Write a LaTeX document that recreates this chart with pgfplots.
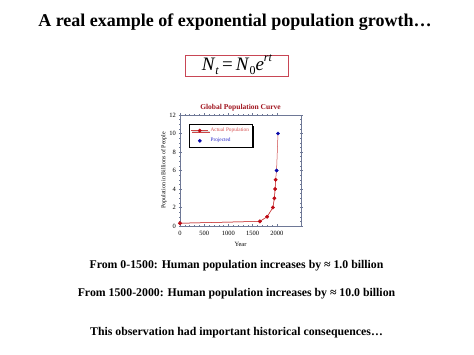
\documentclass[border=0pt]{standalone}
\usepackage{pgfplots}
\pgfplotsset{compat=1.18}
\usepackage{fontspec}
\setmainfont{Liberation Serif}
\usetikzlibrary{shadows}
\definecolor{axcol}{RGB}{110,120,150}
\definecolor{actred}{RGB}{190,10,20}
\definecolor{linered}{RGB}{205,70,70}
\definecolor{projblue}{RGB}{10,10,170}
\definecolor{titlered}{RGB}{160,20,30}
\definecolor{boxred}{RGB}{200,70,85}
\definecolor{legred}{RGB}{215,80,80}
\definecolor{legblue}{RGB}{40,40,200}
\begin{document}
\begin{tikzpicture}[x=1pt,y=1pt]
\path[use as bounding box] (0,0) rectangle (474,-355);
\node[font=\fontsize{18}{20}\selectfont\bfseries] at (235,-22) {A real example of exponential population growth…};
\draw[boxred, line width=0.9pt] (185,-55) rectangle (288,-76);
\node[font=\fontsize{19}{20}\selectfont] at (237,-65) {\textit{N}\raisebox{-0.22em}{\fontsize{12}{12}\selectfont\textit{t}}\,=\,\textit{N}\raisebox{-0.22em}{\fontsize{12}{12}\selectfont 0}\textit{e}\raisebox{0.45em}{\fontsize{12}{12}\selectfont\textit{rt}}};
\begin{axis}[at={(180pt,-226pt)}, anchor=south west, scale only axis,
  width=121pt, height=111pt,
  xmin=0, xmax=2500, ymin=0, ymax=12,
  xtick={0,500,1000,1500,2000}, ytick={0,2,...,12},
  minor x tick num=4, minor y tick num=3,
  tick align=center,
  major tick length=3pt, minor tick length=1.6pt,
  axis line style={axcol, line width=0.5pt},
  every tick/.style={axcol, line width=0.4pt},
  ticklabel style={font=\fontsize{6.5}{7}\selectfont, text=black},
  xticklabel style={yshift=-0.5pt},
  yticklabel style={xshift=1pt},
  scaled x ticks=false,
  xticklabel={\pgfmathprintnumber[fixed,1000 sep={}]{\tick}},
  /pgf/number format/assume math mode=true,
  title={Global Population Curve},
  title style={font=\fontsize{7.5}{8}\selectfont\bfseries, text=titlered, at={(0.5,1)}, anchor=south, yshift=-6pt},
  xlabel={Year}, xlabel style={font=\fontsize{6.5}{7}\selectfont, yshift=1pt},
  ylabel={Population in Billions of People}, ylabel style={font=\fontsize{6}{7}\selectfont, yshift=-4pt},
  clip=false,
  legend cell align=left,
  legend style={at={(0.077,0.916)}, anchor=north west, draw=black, line width=0.4pt,
    fill=white, font=\fontsize{5.3}{6}\selectfont, inner sep=1.5pt,
    row sep=1pt,
    drop shadow={shadow xshift=1.2pt, shadow yshift=-1.2pt, fill=black, opacity=1}},
]
\addplot[linered, line width=0.5pt, forget plot] coordinates {
(0,0.3) (1650,0.5) (1800,1) (1920,2) (1950,3) (1965,4) (1975,5) (1995,6) (2025,10)};
\addplot[linered, line width=0.5pt, mark=*, mark size=1.7pt, mark options={fill=actred, draw=actred}] coordinates {
(0,0.3) (1650,0.5) (1800,1) (1920,2) (1950,3) (1965,4) (1975,5)};
\addlegendentry{\textcolor{legred}{Actual Population}}
\addplot[only marks, mark=*, mark size=1.7pt, mark options={fill=projblue, draw=projblue}] coordinates {
(1995,6) (2025,10)};
\addlegendentry{\textcolor{legblue}{Projected}}
\end{axis}
\node[font=\fontsize{11.8}{13}\selectfont\bfseries] at (236.5,-266) {From 0-1500: Human population increases by ≈ 1.0 billion};
\node[font=\fontsize{11.8}{13}\selectfont\bfseries] at (236.5,-294) {From 1500-2000: Human population increases by ≈ 10.0 billion};
\node[font=\fontsize{11.8}{13}\selectfont\bfseries] at (236.5,-333) {This observation had important historical consequences…};
\end{tikzpicture}
\end{document}
